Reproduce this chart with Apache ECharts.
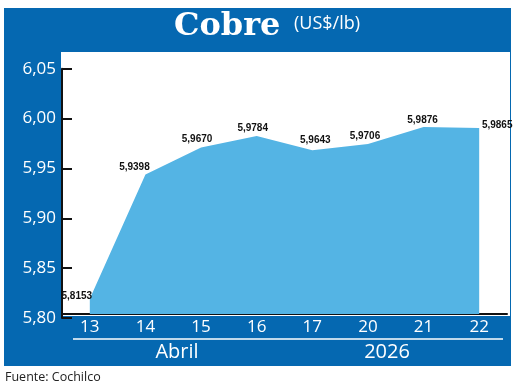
<!DOCTYPE html>
<html>
<head>
<meta charset="utf-8">
<script src="https://cdn.jsdelivr.net/npm/echarts@6/dist/echarts.min.js"></script>
<style>
html,body{margin:0;padding:0;background:#fff;}
#chart{width:520px;height:388px;}
</style>
</head>
<body>
<div id="chart"></div>
<script>
// ---- data ----
const categories = ['13', '14', '15', '16', '17', '20', '21', '22'];
const prices = [5.8153, 5.9398, 5.9670, 5.9784, 5.9643, 5.9706, 5.9876, 5.9865];
const yTicks = [5.80, 5.85, 5.90, 5.95, 6.00, 6.05];
const monthLabel = 'Abril';
const yearLabel = '2026';
const titleMain = 'Cobre';
const titleUnit = '(US$/lb)';
const sourceText = 'Fuente: Cochilco';

// ---- styling (label placement per point) ----
const labelOffsets = [[-13, -2], [-11, -7], [-4, -8], [-4, -8], [3, -10], [-3, -8], [-1, -7], [18, -3]];

const BLUE = '#0568b1';
const AREA = '#54b4e4';
const comma = v => Number(v).toFixed(2).replace('.', ',');

const chart = echarts.init(document.getElementById('chart'), null, {renderer: 'canvas'});

const seriesData = prices.map((v, i) => ({
  value: v,
  label: {offset: labelOffsets[i]}
}));

chart.setOption({
  animation: false,
  backgroundColor: '#ffffff',
  graphic: [
    {type: 'rect', z: -10, silent: true, shape: {x: 4, y: 8, width: 507, height: 358}, style: {fill: BLUE}},
    {type: 'rect', z: -9, silent: true, shape: {x: 61, y: 52, width: 449, height: 264}, style: {fill: '#ffffff'}},
    {type: 'text', z: 10, left: 174, top: 11, style: {text: titleMain, fill: '#ffffff', font: 'bold 32px "DejaVu Serif", "Liberation Serif", serif'}},
    {type: 'text', z: 10, left: 294, top: 15, style: {text: titleUnit, fill: '#ffffff', font: '18px "Open Sans", sans-serif'}},
    {type: 'line', z: 10, shape: {x1: 73, y1: 339, x2: 503, y2: 339}, style: {stroke: '#ffffff', lineWidth: 1.5}},
    {type: 'text', z: 10, x: 177, y: 352, style: {text: monthLabel, fill: '#ffffff', font: '20px "Open Sans", sans-serif', align: 'center', verticalAlign: 'middle'}},
    {type: 'text', z: 10, x: 387, y: 352, style: {text: yearLabel, fill: '#ffffff', font: '20px "Open Sans", sans-serif', align: 'center', verticalAlign: 'middle'}},
    {type: 'text', z: 10, x: 5, y: 377, style: {text: sourceText, fill: '#222222', font: '12.5px "Open Sans", sans-serif', verticalAlign: 'middle'}}
  ],
  grid: [
    {left: 62, right: 13, top: 68.7, height: 249.3, containLabel: false},
    {left: 62, right: 13, top: 64.7, height: 249.3, containLabel: false}
  ],
  xAxis: [
    {gridIndex: 0, type: 'category', data: categories, show: false},
    {
      gridIndex: 1, type: 'category', data: categories, boundaryGap: true,
      axisLine: {show: true, lineStyle: {color: '#111111', width: 2}},
      axisTick: {show: false},
      axisLabel: {color: '#ffffff', fontSize: 17, fontFamily: '"Open Sans", sans-serif', margin: 5},
      splitLine: {show: false}
    }
  ],
  yAxis: [
    {
      gridIndex: 0, type: 'value', min: yTicks[0], max: yTicks[yTicks.length - 1], interval: 0.05,
      axisLine: {show: true, lineStyle: {color: '#111111', width: 2}},
      axisTick: {show: true, inside: true, length: 10, lineStyle: {color: '#111111', width: 2}},
      axisLabel: {color: '#ffffff', fontSize: 17, fontFamily: '"Open Sans", sans-serif', margin: 6, formatter: comma},
      splitLine: {show: false}
    },
    {gridIndex: 1, type: 'value', min: yTicks[0], max: yTicks[yTicks.length - 1], show: false, splitLine: {show: false}}
  ],
  series: [{
    type: 'line',
    xAxisIndex: 1,
    yAxisIndex: 1,
    data: seriesData,
    symbol: 'circle',
    symbolSize: 1,
    itemStyle: {color: 'rgba(0,0,0,0)'},
    lineStyle: {width: 0, color: AREA},
    areaStyle: {color: AREA, opacity: 1},
    label: {
      show: true,
      position: 'inside',
      color: '#111111',
      fontSize: 10,
      fontWeight: 'bold',
      fontFamily: '"Liberation Sans", Arial, sans-serif',
      formatter: p => Number(p.value).toFixed(4).replace('.', ',')
    },
    emphasis: {disabled: true}
  }]
});
</script>
</body>
</html>
